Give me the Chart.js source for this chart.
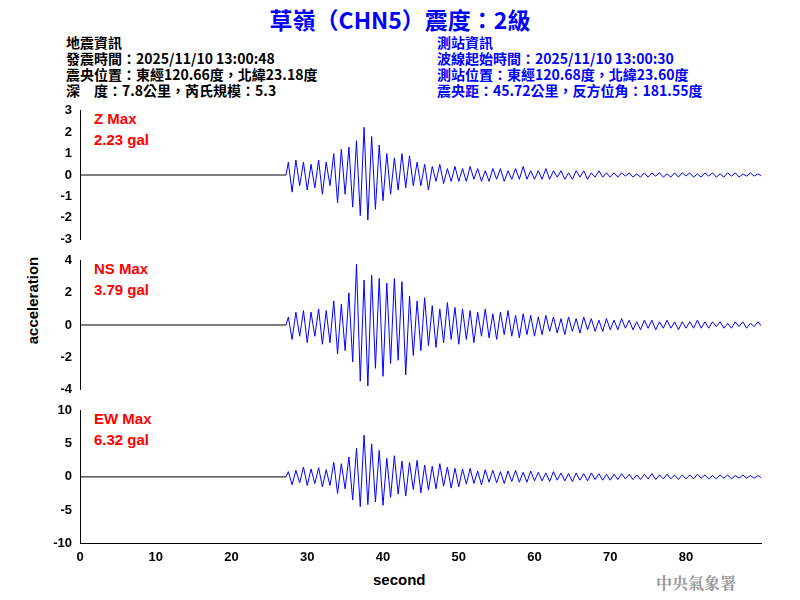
<!DOCTYPE html>
<html><head><meta charset="utf-8">
<script src="https://cdn.jsdelivr.net/npm/chart.js@4"></script>
<style>
body{margin:0;width:800px;height:600px;background:#fff;position:relative;overflow:hidden;font-family:"Liberation Sans",Arial,sans-serif}
canvas{position:absolute;left:0}
.t{position:absolute;white-space:pre}
.info{font-family:"Noto Sans CJK TC","Liberation Sans",sans-serif;font-size:14px;line-height:16px}
.lab{color:#f00;font-weight:bold;font-size:15px;line-height:21px}
</style></head><body>
<div class="t" style="left:0;width:800px;top:2px;text-align:center;color:#0000ff;font-weight:bold;font-size:23px;font-family:'Noto Sans CJK TC','Liberation Sans',sans-serif">草嶺（CHN5）震度：2級</div>
<div class="t info" style="left:66px;top:34px;color:#000;font-weight:bold">地震資訊
發震時間：2025/11/10 13:00:48
震央位置：東經120.66度，北緯23.18度
深　度：7.8公里，芮氏規模：5.3</div>
<div class="t info" style="left:437px;top:34px;color:#0000ff;font-weight:bold">測站資訊
波線起始時間：2025/11/10 13:00:30
測站位置：東經120.68度，北緯23.60度
震央距：45.72公里，反方位角：181.55度</div>
<div class="t lab" style="left:94px;top:108px">Z Max
2.23 gal</div>
<div class="t lab" style="left:94px;top:258px">NS Max
3.79 gal</div>
<div class="t lab" style="left:94px;top:408px">EW Max
6.32 gal</div>
<div class="t" style="left:-18px;top:292px;transform:rotate(-90deg);font-weight:bold;font-size:15px;width:100px;text-align:center">acceleration</div>
<div class="t" style="left:373px;top:571px;font-weight:bold;font-size:15px">second</div>
<div class="t" style="left:656px;top:571px;color:#999;font-weight:bold;font-size:16px;font-family:'Noto Serif CJK TC','Noto Sans CJK TC',serif">中央氣象署</div>
<canvas id="c1" width="800" height="150" style="top:100px;width:800px;height:150px"></canvas>
<canvas id="c2" width="800" height="150" style="top:250px;width:800px;height:150px"></canvas>
<canvas id="c3" width="800" height="200" style="top:400px;width:800px;height:200px"></canvas>
<script>
const startTime = 27.5, stepTime = 0.5, xMax = 89.9;
const xTickValues = [0,10,20,30,40,50,60,70,80];
const zValues = [0.6,-0.8,0.7,-0.5,0.6,-0.7, 0.5,-0.6,0.7,-0.9,0.6,-0.5, 1.0,-1.3,1.2,-0.9, 1.3,-1.5, 1.6,-1.9,2.23,-2.1,1.8,-1.6,1.4,-1.2, 1.0,-0.9,0.8,-0.7,1.0,-0.6, 0.9,-0.5,0.6,-0.5,0.5,-0.7, 0.4,-0.3,0.5,-0.4,0.3,-0.3,0.4,-0.3,
 0.3,-0.3,0.4,-0.2,0.3,-0.3,0.2,-0.3,0.3,-0.2,0.3,-0.3,0.2,-0.2,0.3,-0.2,0.4,-0.2,0.2,-0.2,
 0.2,-0.2,0.3,-0.2,0.2,-0.1,0.2,-0.2,0.1,-0.2,0.2,-0.1,0.2,-0.2,0.1,-0.1,0.2,-0.1,0.1,-0.1,
 0.1,-0.1,0.1,-0.05,0.1,-0.1,0.05,-0.1,0.1,-0.1,0.1,-0.05,0.1,-0.1,0.05,-0.1,0.1,-0.1,0.1,-0.05,
 0.1,-0.1,0.05,-0.1,0.1,-0.05,0.1,-0.1,0.05,-0.1,0.1,-0.05,0.1,-0.1,0.05,-0.05,0.1,-0.05,0.05,-0.05];
const nsValues = [0.5,-0.9,0.8,-0.7,0.9,-1.1, 0.8,-0.7,1.0,-1.2,0.9,-1.1, 1.5,-1.8,1.3,-1.6, 2.0,-2.3, 3.79,-3.5,2.8,-3.8,3.1,-2.7,2.9,-3.2, 2.6,-2.4,2.9,-2.2,2.7,-3.1, 1.8,-1.9,1.5,-1.6,1.7,-1.3, 1.2,-1.4,1.0,-1.1,1.4,-0.9,1.1,-1.2,
 1.0,-0.9,0.9,-1.1,0.8,-0.7,1.0,-0.8,0.7,-0.9,0.8,-0.6,0.9,-0.7,0.6,-0.8,0.7,-0.6,0.6,-0.7,
 0.5,-0.6,0.6,-0.4,0.5,-0.5,0.4,-0.6,0.5,-0.4,0.4,-0.5,0.5,-0.3,0.4,-0.4,0.3,-0.4,0.4,-0.3,
 0.3,-0.3,0.4,-0.2,0.3,-0.3,0.2,-0.3,0.3,-0.2,0.3,-0.3,0.2,-0.2,0.3,-0.2,0.2,-0.3,0.2,-0.2,
 0.2,-0.2,0.3,-0.2,0.2,-0.2,0.2,-0.1,0.2,-0.2,0.1,-0.2,0.2,-0.1,0.2,-0.2,0.1,-0.1,0.2,-0.1];
const ewValues = [0.8,-1.2,1.0,-0.9,1.5,-1.3, 1.2,-1.0,1.4,-1.5,1.1,-1.3, 2.2,-2.5,2.0,-1.8, 3.0,-3.5, 4.3,-4.5,6.32,-4.2,5.0,-3.8,4.0,-4.3, 2.8,-3.1,3.2,-2.6,2.4,-2.9, 2.2,-1.9,2.5,-2.4,1.8,-2.0, 1.6,-1.8,2.0,-1.4,1.5,-1.7,1.3,-1.5,
 1.2,-1.1,1.3,-1.0,0.9,-1.2,1.1,-0.8,1.0,-0.9,0.8,-1.0,0.9,-0.7,1.0,-0.8,0.7,-0.8,0.9,-0.6,
 0.7,-0.6,0.6,-0.7,0.8,-0.5,0.6,-0.6,0.5,-0.7,0.6,-0.5,0.5,-0.6,0.6,-0.4,0.5,-0.5,0.4,-0.5,
 0.4,-0.4,0.5,-0.3,0.4,-0.4,0.3,-0.4,0.4,-0.3,0.5,-0.4,0.3,-0.3,0.4,-0.3,0.3,-0.4,0.3,-0.3,
 0.3,-0.3,0.4,-0.2,0.3,-0.3,0.2,-0.3,0.3,-0.2,0.3,-0.3,0.2,-0.2,0.3,-0.2,0.2,-0.2,0.2,-0.2];
const panels = [
  {id:'c1', values:zValues, min:-3, max:3, step:1, showX:false},
  {id:'c2', values:nsValues, min:-4, max:4, step:2, showX:false},
  {id:'c3', values:ewValues, min:-10, max:10, step:5, showX:true}
];
const tickFont = {family:"'Liberation Sans',Arial,sans-serif", size:13, weight:'bold'};
panels.forEach(p=>{
  const pts=[{x:0,y:0},{x:startTime-0.3,y:0}];
  p.values.forEach((v,i)=>pts.push({x:startTime+i*stepTime,y:v}));
  new Chart(document.getElementById(p.id),{
    type:'line',
    data:{datasets:[{data:pts,borderColor:'#0000ff',borderWidth:1,pointRadius:0,tension:0,
      segment:{borderColor:c=>c.p0DataIndex===0?'#000':'#0000ff'}}]},
    options:{
      responsive:false,animation:false,
      layout:{padding:{left:0,right:39,top:7,bottom:p.showX?0:7}},
      plugins:{legend:{display:false},tooltip:{enabled:false}},
      scales:{
        x:{type:'linear',min:0,max:xMax,display:p.showX,
           afterBuildTicks:s=>{s.ticks=xTickValues.map(v=>({value:v}));},
           ticks:{color:'#000',font:tickFont,padding:2,autoSkip:false,callback:v=>String(v)},
           grid:{display:false,drawTicks:true,tickLength:5,tickColor:'#000'},
           border:{color:'#000',width:1},
           afterFit:s=>{if(p.showX) s.height=57;}},
        y:{min:p.min,max:p.max,
           ticks:{stepSize:p.step,color:'#000',font:tickFont,padding:3,autoSkip:false},
           grid:{display:false,drawTicks:true,tickLength:5,tickColor:'#000'},
           border:{color:'#000',width:1},
           afterFit:s=>{s.width=80;}}
      }
    }
  });
});
</script></body></html>
